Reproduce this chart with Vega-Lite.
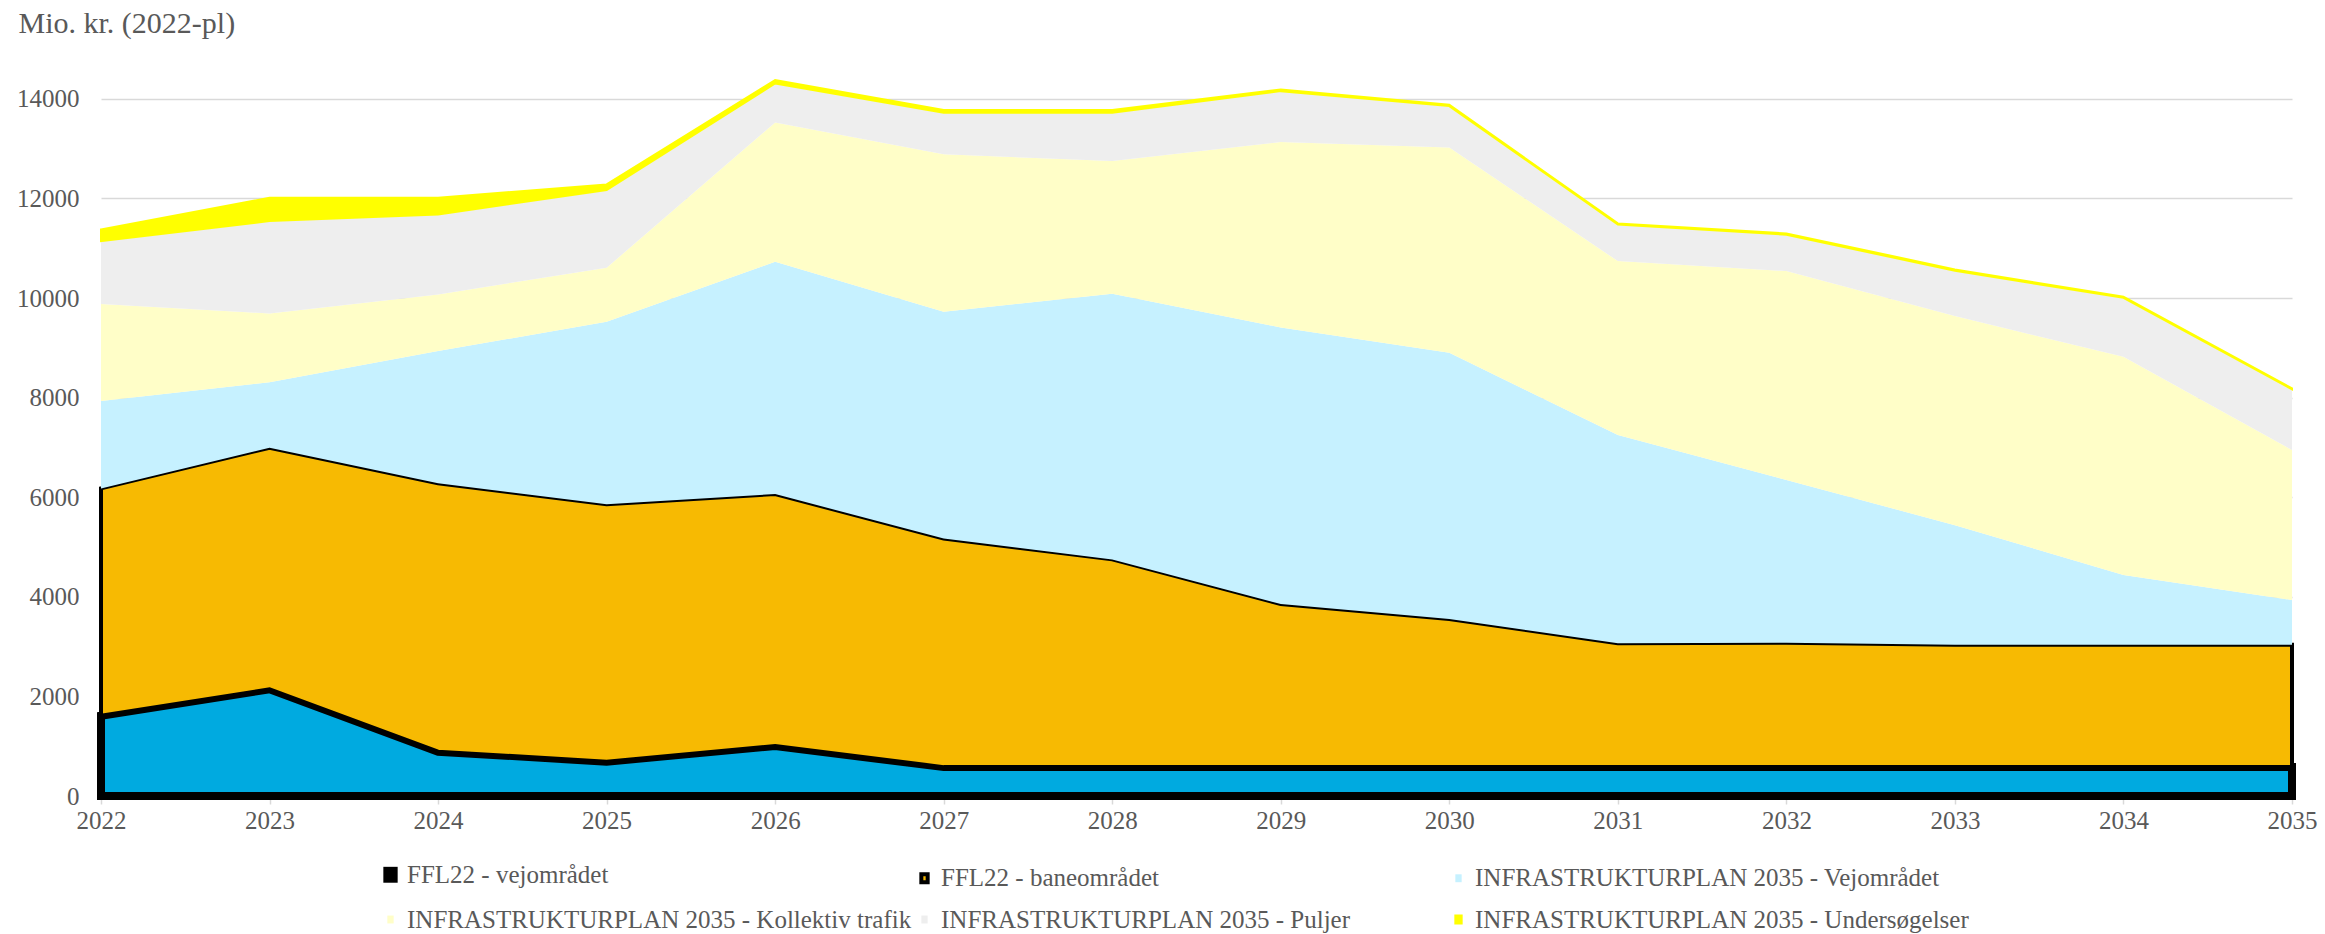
{
  "$schema": "https://vega.github.io/schema/vega-lite/v6.json",
  "width": 2191,
  "height": 722,
  "autosize": {"type": "none"},
  "padding": {"left": 101, "top": 74, "right": 33, "bottom": 138},
  "background": "white",
  "config": {
    "font": "Liberation Serif",
    "view": {"stroke": null},
    "legend": {
      "orient": "none",
      "direction": "horizontal",
      "gridAlign": "all",
      "legendX": 277,
      "legendY": 788,
      "columns": 3,
      "columnPadding": 0,
      "rowPadding": 12,
      "labelFontSize": 25,
      "labelColor": "#595959",
      "labelFont": "Liberation Serif",
      "labelOffset": 4,
      "labelLimit": 0,
      "symbolType": "M-0.4,-0.5H0.4V0.5H-0.4Z",
      "symbolSize": 250
    }
  },
  "data": {
    "values": [
      {"year": 2022, "s": "FFL22  - vejområdet", "k": 1, "v": 1613},
      {"year": 2023, "s": "FFL22  - vejområdet", "k": 1, "v": 2142},
      {"year": 2024, "s": "FFL22  - vejområdet", "k": 1, "v": 890},
      {"year": 2025, "s": "FFL22  - vejområdet", "k": 1, "v": 689},
      {"year": 2026, "s": "FFL22  - vejområdet", "k": 1, "v": 1004},
      {"year": 2027, "s": "FFL22  - vejområdet", "k": 1, "v": 580},
      {"year": 2028, "s": "FFL22  - vejområdet", "k": 1, "v": 580},
      {"year": 2029, "s": "FFL22  - vejområdet", "k": 1, "v": 580},
      {"year": 2030, "s": "FFL22  - vejområdet", "k": 1, "v": 580},
      {"year": 2031, "s": "FFL22  - vejområdet", "k": 1, "v": 580},
      {"year": 2032, "s": "FFL22  - vejområdet", "k": 1, "v": 580},
      {"year": 2033, "s": "FFL22  - vejområdet", "k": 1, "v": 580},
      {"year": 2034, "s": "FFL22  - vejområdet", "k": 1, "v": 580},
      {"year": 2035, "s": "FFL22  - vejområdet", "k": 1, "v": 580},

      {"year": 2022, "s": "FFL22 - baneområdet", "k": 2, "v": 4565},
      {"year": 2023, "s": "FFL22 - baneområdet", "k": 2, "v": 4852},
      {"year": 2024, "s": "FFL22 - baneområdet", "k": 2, "v": 5389},
      {"year": 2025, "s": "FFL22 - baneområdet", "k": 2, "v": 5168},
      {"year": 2026, "s": "FFL22 - baneområdet", "k": 2, "v": 5060},
      {"year": 2027, "s": "FFL22 - baneområdet", "k": 2, "v": 4591},
      {"year": 2028, "s": "FFL22 - baneområdet", "k": 2, "v": 4172},
      {"year": 2029, "s": "FFL22 - baneområdet", "k": 2, "v": 3275},
      {"year": 2030, "s": "FFL22 - baneområdet", "k": 2, "v": 2974},
      {"year": 2031, "s": "FFL22 - baneområdet", "k": 2, "v": 2486},
      {"year": 2032, "s": "FFL22 - baneområdet", "k": 2, "v": 2499},
      {"year": 2033, "s": "FFL22 - baneområdet", "k": 2, "v": 2460},
      {"year": 2034, "s": "FFL22 - baneområdet", "k": 2, "v": 2460},
      {"year": 2035, "s": "FFL22 - baneområdet", "k": 2, "v": 2460},

      {"year": 2022, "s": "INFRASTRUKTURPLAN 2035 - Vejområdet", "k": 3, "v": 1754},
      {"year": 2023, "s": "INFRASTRUKTURPLAN 2035 - Vejområdet", "k": 3, "v": 1313},
      {"year": 2024, "s": "INFRASTRUKTURPLAN 2035 - Vejområdet", "k": 3, "v": 2657},
      {"year": 2025, "s": "INFRASTRUKTURPLAN 2035 - Vejområdet", "k": 3, "v": 3667},
      {"year": 2026, "s": "INFRASTRUKTURPLAN 2035 - Vejområdet", "k": 3, "v": 4665},
      {"year": 2027, "s": "INFRASTRUKTURPLAN 2035 - Vejområdet", "k": 3, "v": 4554},
      {"year": 2028, "s": "INFRASTRUKTURPLAN 2035 - Vejområdet", "k": 3, "v": 5335},
      {"year": 2029, "s": "INFRASTRUKTURPLAN 2035 - Vejområdet", "k": 3, "v": 5556},
      {"year": 2030, "s": "INFRASTRUKTURPLAN 2035 - Vejområdet", "k": 3, "v": 5348},
      {"year": 2031, "s": "INFRASTRUKTURPLAN 2035 - Vejområdet", "k": 3, "v": 4183},
      {"year": 2032, "s": "INFRASTRUKTURPLAN 2035 - Vejområdet", "k": 3, "v": 3266},
      {"year": 2033, "s": "INFRASTRUKTURPLAN 2035 - Vejområdet", "k": 3, "v": 2400},
      {"year": 2034, "s": "INFRASTRUKTURPLAN 2035 - Vejområdet", "k": 3, "v": 1398},
      {"year": 2035, "s": "INFRASTRUKTURPLAN 2035 - Vejområdet", "k": 3, "v": 896},

      {"year": 2022, "s": "INFRASTRUKTURPLAN 2035 - Kollektiv trafik", "k": 4, "v": 1948},
      {"year": 2023, "s": "INFRASTRUKTURPLAN 2035 - Kollektiv trafik", "k": 4, "v": 1385},
      {"year": 2024, "s": "INFRASTRUKTURPLAN 2035 - Kollektiv trafik", "k": 4, "v": 1138},
      {"year": 2025, "s": "INFRASTRUKTURPLAN 2035 - Kollektiv trafik", "k": 4, "v": 1085},
      {"year": 2026, "s": "INFRASTRUKTURPLAN 2035 - Kollektiv trafik", "k": 4, "v": 2799},
      {"year": 2027, "s": "INFRASTRUKTURPLAN 2035 - Kollektiv trafik", "k": 4, "v": 3161},
      {"year": 2028, "s": "INFRASTRUKTURPLAN 2035 - Kollektiv trafik", "k": 4, "v": 2664},
      {"year": 2029, "s": "INFRASTRUKTURPLAN 2035 - Kollektiv trafik", "k": 4, "v": 3722},
      {"year": 2030, "s": "INFRASTRUKTURPLAN 2035 - Kollektiv trafik", "k": 4, "v": 4123},
      {"year": 2031, "s": "INFRASTRUKTURPLAN 2035 - Kollektiv trafik", "k": 4, "v": 3494},
      {"year": 2032, "s": "INFRASTRUKTURPLAN 2035 - Kollektiv trafik", "k": 4, "v": 4197},
      {"year": 2033, "s": "INFRASTRUKTURPLAN 2035 - Kollektiv trafik", "k": 4, "v": 4199},
      {"year": 2034, "s": "INFRASTRUKTURPLAN 2035 - Kollektiv trafik", "k": 4, "v": 4383},
      {"year": 2035, "s": "INFRASTRUKTURPLAN 2035 - Kollektiv trafik", "k": 4, "v": 3012},

      {"year": 2022, "s": "INFRASTRUKTURPLAN 2035 - Puljer", "k": 5, "v": 1265},
      {"year": 2023, "s": "INFRASTRUKTURPLAN 2035 - Puljer", "k": 5, "v": 1854},
      {"year": 2024, "s": "INFRASTRUKTURPLAN 2035 - Puljer", "k": 5, "v": 1606},
      {"year": 2025, "s": "INFRASTRUKTURPLAN 2035 - Puljer", "k": 5, "v": 1560},
      {"year": 2026, "s": "INFRASTRUKTURPLAN 2035 - Puljer", "k": 5, "v": 783},
      {"year": 2027, "s": "INFRASTRUKTURPLAN 2035 - Puljer", "k": 5, "v": 835},
      {"year": 2028, "s": "INFRASTRUKTURPLAN 2035 - Puljer", "k": 5, "v": 970},
      {"year": 2029, "s": "INFRASTRUKTURPLAN 2035 - Puljer", "k": 5, "v": 1023},
      {"year": 2030, "s": "INFRASTRUKTURPLAN 2035 - Puljer", "k": 5, "v": 830},
      {"year": 2031, "s": "INFRASTRUKTURPLAN 2035 - Puljer", "k": 5, "v": 736},
      {"year": 2032, "s": "INFRASTRUKTURPLAN 2035 - Puljer", "k": 5, "v": 730},
      {"year": 2033, "s": "INFRASTRUKTURPLAN 2035 - Puljer", "k": 5, "v": 909},
      {"year": 2034, "s": "INFRASTRUKTURPLAN 2035 - Puljer", "k": 5, "v": 1185},
      {"year": 2035, "s": "INFRASTRUKTURPLAN 2035 - Puljer", "k": 5, "v": 1219},

      {"year": 2022, "s": "INFRASTRUKTURPLAN 2035 - Undersøgelser", "k": 6, "v": 234},
      {"year": 2023, "s": "INFRASTRUKTURPLAN 2035 - Undersøgelser", "k": 6, "v": 468},
      {"year": 2024, "s": "INFRASTRUKTURPLAN 2035 - Undersøgelser", "k": 6, "v": 334},
      {"year": 2025, "s": "INFRASTRUKTURPLAN 2035 - Undersøgelser", "k": 6, "v": 114},
      {"year": 2026, "s": "INFRASTRUKTURPLAN 2035 - Undersøgelser", "k": 6, "v": 67},
      {"year": 2027, "s": "INFRASTRUKTURPLAN 2035 - Undersøgelser", "k": 6, "v": 54},
      {"year": 2028, "s": "INFRASTRUKTURPLAN 2035 - Undersøgelser", "k": 6, "v": 54},
      {"year": 2029, "s": "INFRASTRUKTURPLAN 2035 - Undersøgelser", "k": 6, "v": 34},
      {"year": 2030, "s": "INFRASTRUKTURPLAN 2035 - Undersøgelser", "k": 6, "v": 27},
      {"year": 2031, "s": "INFRASTRUKTURPLAN 2035 - Undersøgelser", "k": 6, "v": 20},
      {"year": 2032, "s": "INFRASTRUKTURPLAN 2035 - Undersøgelser", "k": 6, "v": 27},
      {"year": 2033, "s": "INFRASTRUKTURPLAN 2035 - Undersøgelser", "k": 6, "v": 28},
      {"year": 2034, "s": "INFRASTRUKTURPLAN 2035 - Undersøgelser", "k": 6, "v": 20},
      {"year": 2035, "s": "INFRASTRUKTURPLAN 2035 - Undersøgelser", "k": 6, "v": 20}
    ]
  },
  "mark": {"type": "area", "interpolate": "linear", "strokeJoin": "miter"},
  "encoding": {
    "x": {
      "field": "year",
      "type": "quantitative",
      "scale": {"domain": [2022, 2035], "nice": false, "zero": false},
      "axis": {
        "title": null,
        "values": [2022, 2023, 2024, 2025, 2026, 2027, 2028, 2029, 2030, 2031, 2032, 2033, 2034, 2035],
        "format": "d",
        "labelFontSize": 25,
        "labelColor": "#595959",
        "labelFont": "Liberation Serif",
        "labelPadding": 4,
        "labelFlush": false,
        "labelOverlap": false,
        "domainColor": "#d9d9d9",
        "domainWidth": 2,
        "tickColor": "#d9d9d9",
        "tickWidth": 1.5,
        "tickSize": 8,
        "grid": false
      }
    },
    "y": {
      "field": "v",
      "type": "quantitative",
      "stack": "zero",
      "scale": {"domain": [0, 14500], "nice": false},
      "axis": {
        "title": "Mio. kr. (2022-pl)",
        "titleAngle": 0,
        "titleAlign": "left",
        "titleBaseline": "middle",
        "titleX": -83,
        "titleY": -51,
        "titleFontSize": 30,
        "titleFontWeight": "normal",
        "titleColor": "#595959",
        "titleFont": "Liberation Serif",
        "values": [0, 2000, 4000, 6000, 8000, 10000, 12000, 14000],
        "format": "d",
        "labelFontSize": 25,
        "labelColor": "#595959",
        "labelFont": "Liberation Serif",
        "labelPadding": 22,
        "domain": false,
        "ticks": false,
        "grid": true,
        "gridColor": "#d9d9d9",
        "gridWidth": 1.5
      }
    },
    "color": {
      "field": "s",
      "type": "nominal",
      "scale": {
        "domain": ["FFL22  - vejområdet", "FFL22 - baneområdet", "INFRASTRUKTURPLAN 2035 - Vejområdet", "INFRASTRUKTURPLAN 2035 - Kollektiv trafik", "INFRASTRUKTURPLAN 2035 - Puljer", "INFRASTRUKTURPLAN 2035 - Undersøgelser"],
        "range": ["#00AAE0", "#F7BA02", "#C6F1FF", "#FFFEC8", "#EEEEEE", "#FFFF00"]
      },
      "legend": {"title": null}
    },
    "stroke": {
      "field": "s",
      "type": "nominal",
      "scale": {
        "domain": ["FFL22  - vejområdet", "FFL22 - baneområdet", "INFRASTRUKTURPLAN 2035 - Vejområdet", "INFRASTRUKTURPLAN 2035 - Kollektiv trafik", "INFRASTRUKTURPLAN 2035 - Puljer", "INFRASTRUKTURPLAN 2035 - Undersøgelser"],
        "range": ["#000000", "#000000", "#C6F1FF", "#FFFEC8", "#EEEEEE", "#FFFF00"]
      },
      "legend": {"title": null}
    },
    "strokeWidth": {
      "field": "s",
      "type": "nominal",
      "scale": {
        "type": "ordinal",
        "domain": ["FFL22  - vejområdet", "FFL22 - baneområdet", "INFRASTRUKTURPLAN 2035 - Vejområdet", "INFRASTRUKTURPLAN 2035 - Kollektiv trafik", "INFRASTRUKTURPLAN 2035 - Puljer", "INFRASTRUKTURPLAN 2035 - Undersøgelser"],
        "range": [8, 4, 0, 0, 0, 2]
      },
      "legend": {"title": null}
    },
    "order": {"field": "k", "type": "quantitative", "sort": "ascending"}
  }
}
